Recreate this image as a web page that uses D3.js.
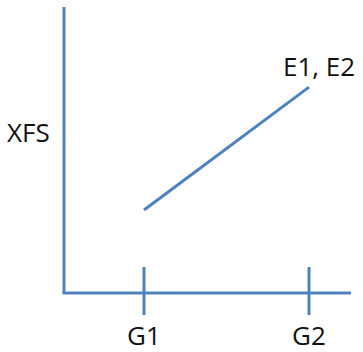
<!DOCTYPE html>
<html>
<head>
<meta charset="utf-8">
<script src="https://cdn.jsdelivr.net/npm/d3@7"></script>
<style>
  html, body { margin: 0; padding: 0; background: #fff; }
  svg { display: block; }
  text { font-family: "Open Sans", "Noto Sans", sans-serif; fill: #111; }
</style>
</head>
<body>
<svg id="chart" width="363" height="352"></svg>
<script>
// Data
const categories = ["G1", "G2"];
const seriesName = "E1, E2";
const seriesValues = [2.9, 7.2];
const yAxisLabel = "XFS";

const W = 363, H = 352;
const color = "#4f81bd";
const svg = d3.select("#chart");

const x = d3.scalePoint().domain(categories).range([144, 309]).padding(0);
const y = d3.scaleLinear().domain([0, 10]).range([293, 7]);

const axisLeftX = 64, axisRightX = 351;

// Y axis line
svg.append("line")
  .attr("x1", axisLeftX).attr("x2", axisLeftX)
  .attr("y1", y(10)).attr("y2", y(0))
  .attr("stroke", color).attr("stroke-width", 3);

// X axis line
svg.append("line")
  .attr("x1", axisLeftX - 1.5).attr("x2", axisRightX)
  .attr("y1", y(0)).attr("y2", y(0))
  .attr("stroke", color).attr("stroke-width", 3);

// Ticks crossing the x axis
svg.selectAll("line.tick").data(categories).join("line")
  .attr("class", "tick")
  .attr("x1", d => x(d)).attr("x2", d => x(d))
  .attr("y1", y(0) - 26).attr("y2", y(0) + 22)
  .attr("stroke", color).attr("stroke-width", 3);

// Tick labels
svg.selectAll("text.cat").data(categories).join("text")
  .attr("class", "cat")
  .attr("x", d => x(d)).attr("y", 345)
  .attr("text-anchor", "middle")
  .attr("font-size", 26)
  .text(d => d);

// Y label
svg.append("text")
  .attr("x", 7).attr("y", 142)
  .attr("font-size", 26)
  .text(yAxisLabel);

// Series line
const line = d3.line().x((d, i) => x(categories[i])).y(d => y(d));
svg.append("path")
  .datum(seriesValues)
  .attr("d", line)
  .attr("fill", "none")
  .attr("stroke", color)
  .attr("stroke-width", 3);

// Series label
svg.append("text")
  .attr("x", 283).attr("y", 76)
  .attr("font-size", 26)
  .text(seriesName);
</script>
</body>
</html>
